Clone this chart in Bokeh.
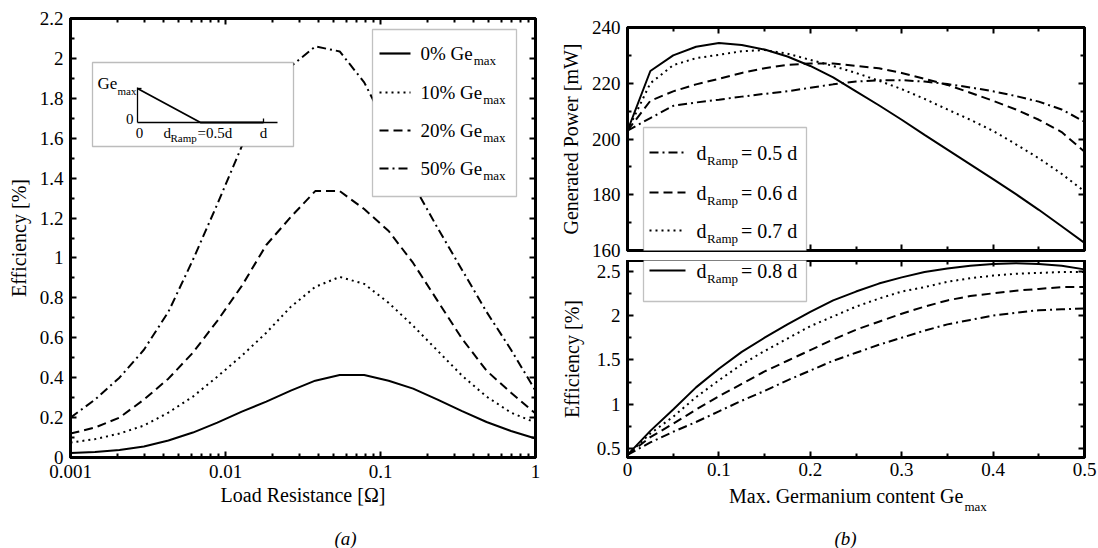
from bokeh.plotting import figure
from bokeh.models import (Range1d, LinearAxis, LogAxis, FixedTicker, CustomJSTickFormatter,
                          Label, BoxAnnotation, LinearScale)
from bokeh.layouts import row, column
from bokeh.embed import file_html
from bokeh.resources import INLINE

FONT = "Liberation Serif"

# ---------------- panel (a): efficiency vs load resistance ----------------
load_resistance = [0.001, 0.0014384, 0.0020691, 0.0029764, 0.0042813, 0.0061585, 0.0088587,
                   0.012743, 0.018330, 0.026367, 0.037927, 0.054556, 0.078476, 0.11288,
                   0.16238, 0.23357, 0.33598, 0.48329, 0.69519, 1.0]
eff_ge0 = [0.022, 0.028, 0.038, 0.055, 0.085, 0.125, 0.175, 0.23, 0.28, 0.335,
           0.385, 0.413, 0.413, 0.385, 0.345, 0.29, 0.232, 0.178, 0.133, 0.095]
eff_ge10 = [0.075, 0.092, 0.12, 0.16, 0.225, 0.305, 0.405, 0.51, 0.625, 0.755,
            0.855, 0.905, 0.87, 0.775, 0.66, 0.535, 0.41, 0.305, 0.225, 0.175]
eff_ge20 = [0.12, 0.15, 0.2, 0.29, 0.395, 0.525, 0.685, 0.86, 1.065, 1.205,
            1.335, 1.335, 1.245, 1.135, 0.975, 0.785, 0.595, 0.435, 0.325, 0.22]
eff_ge50 = [0.2, 0.29, 0.4, 0.54, 0.73, 0.99, 1.27, 1.56, 1.85, 1.96,
            2.06, 2.035, 1.88, 1.64, 1.37, 1.15, 0.94, 0.73, 0.54, 0.335]
left_labels = ["0% Ge", "10% Ge", "20% Ge", "50% Ge"]
left_x_ticks = [0.001, 0.01, 0.1, 1]
left_x_minor = [0.002, 0.003, 0.004, 0.005, 0.006, 0.007, 0.008, 0.009,
                0.02, 0.03, 0.04, 0.05, 0.06, 0.07, 0.08, 0.09,
                0.2, 0.3, 0.4, 0.5, 0.6, 0.7, 0.8, 0.9]
left_y_ticks = [0, 0.2, 0.4, 0.6, 0.8, 1, 1.2, 1.4, 1.6, 1.8, 2, 2.2]
left_y_minor = [0.1, 0.3, 0.5, 0.7, 0.9, 1.1, 1.3, 1.5, 1.7, 1.9, 2.1]

# ---------------- panel (b): power and efficiency vs Ge_max ----------------
ge_max = [0, 0.025, 0.05, 0.075, 0.1, 0.125, 0.15, 0.175, 0.2, 0.225, 0.25,
          0.275, 0.3, 0.325, 0.35, 0.375, 0.4, 0.425, 0.45, 0.475, 0.5]
power_r05 = [203, 207.5, 211.9, 213.1, 214.1, 215.2, 216.2, 217.1, 218.4, 219.6, 220.6,
             221.1, 221.1, 220.6, 219.7, 218.5, 217.1, 215.4, 213.4, 210.6, 206.2]
power_r06 = [203, 213.7, 217.1, 219.6, 221.6, 223.7, 225.4, 226.6, 227.1, 227.1, 226.2,
             225.4, 223.7, 221.6, 219.4, 216.6, 213.7, 210.6, 206.9, 202.5, 195.4]
power_r07 = [203, 220, 226.5, 229, 230.2, 231.5, 231.9, 230.6, 228.4, 226.2, 223.7,
             220.9, 217.9, 214.4, 210.6, 206.9, 202.9, 198.1, 193.1, 187.5, 181.2]
power_r08 = [203, 224.4, 230, 233.1, 234.4, 233.7, 232.1, 229.6, 226.2, 222.1, 217.1,
             212.1, 206.9, 201.5, 196.2, 190.9, 185.6, 180.2, 174.6, 168.7, 162.7]
eff_r05 = [0.43, 0.57, 0.69, 0.80, 0.92, 1.04, 1.15, 1.27, 1.38, 1.49, 1.58,
           1.67, 1.75, 1.83, 1.90, 1.95, 2.00, 2.03, 2.06, 2.07, 2.08]
eff_r06 = [0.43, 0.63, 0.78, 0.94, 1.09, 1.23, 1.37, 1.49, 1.61, 1.73, 1.84,
           1.93, 2.02, 2.10, 2.17, 2.22, 2.25, 2.28, 2.30, 2.32, 2.32]
eff_r07 = [0.43, 0.67, 0.86, 1.08, 1.27, 1.45, 1.60, 1.74, 1.88, 1.99, 2.10,
           2.19, 2.27, 2.32, 2.38, 2.42, 2.45, 2.47, 2.48, 2.49, 2.49]
eff_r08 = [0.43, 0.70, 0.94, 1.19, 1.40, 1.59, 1.75, 1.90, 2.04, 2.17, 2.27,
           2.36, 2.43, 2.49, 2.53, 2.56, 2.58, 2.59, 2.58, 2.56, 2.52]
ramp_labels = ["= 0.5 d", "= 0.6 d", "= 0.7 d", "= 0.8 d"]
right_x_ticks = [0, 0.1, 0.2, 0.3, 0.4, 0.5]
right_x_minor = [0.05, 0.15, 0.25, 0.35, 0.45]
power_ticks = [160, 180, 200, 220, 240]
power_minor = [170, 190, 210, 230]
effb_ticks = [0.5, 1, 1.5, 2, 2.5]
effb_minor = [0.75, 1.25, 1.75, 2.25]

DOT = "2 4"
DASH = "9 5"
DASHDOT = "9 4 2 4"

CW = {'0': .5, '1': .5, '2': .5, '3': .5, '4': .5, '5': .5, '6': .5, '7': .5, '8': .5, '9': .5,
      '.': .25, '%': .833, ' ': .25, 'G': .722, 'e': .444, 'd': .5, '=': .564, 'M': .889,
      'a': .444, 'x': .5, 'r': .333, 'm': .778, 'n': .5, 'i': .278, 'u': .5, 'c': .444,
      'o': .5, 't': .278, 'R': .667, 'p': .5}


def tw(s, fs):
    return sum(CW.get(c, 0.5) for c in s) * fs


fmt_code = "return String(tick)"


def style_axis(ax, ticks, minor, show_labels=True, standoff=7):
    ax.ticker = FixedTicker(ticks=ticks, minor_ticks=minor)
    ax.formatter = CustomJSTickFormatter(code=fmt_code)
    ax.axis_line_color = "black"
    ax.axis_line_width = 3
    ax.major_tick_line_color = "black"
    ax.major_tick_line_width = 2
    ax.minor_tick_line_color = "black"
    ax.minor_tick_line_width = 2
    ax.major_tick_in = 6
    ax.major_tick_out = 0
    ax.minor_tick_in = 4
    ax.minor_tick_out = 0
    ax.major_label_text_font = FONT
    if show_labels:
        ax.major_label_text_color = "black"
        ax.major_label_text_font_size = "19px"
        ax.major_label_standoff = standoff
    else:
        ax.major_label_text_color = None
        ax.major_label_text_font_size = "0px"
        ax.major_label_standoff = 0
    ax.axis_label_text_font = FONT
    ax.axis_label_text_font_size = "20px"
    ax.axis_label_text_font_style = "normal"
    ax.axis_label_text_color = "black"


def base_fig(**kw):
    p = figure(output_backend="svg", toolbar_location=None, **kw)
    p.grid.visible = False
    p.background_fill_color = "white"
    p.border_fill_color = "white"
    p.outline_line_color = "black"
    p.outline_line_width = 3
    return p


def caption_fig(width, height):
    p = figure(output_backend="svg", toolbar_location=None, width=width, height=height,
               x_range=Range1d(0, width), y_range=Range1d(0, height),
               x_axis_location=None, y_axis_location=None, min_border=0)
    p.grid.visible = False
    p.outline_line_color = None
    p.background_fill_color = "white"
    p.border_fill_color = "white"
    return p


def label(p, x, y, text, size=19, align="left", style="normal"):
    p.add_layout(Label(x=x, y=y, x_units="screen", y_units="screen", text=text,
                       text_font=FONT, text_font_size=f"{size}px", text_color="black",
                       text_baseline="middle", text_align=align, text_font_style=style))


def sub_label(p, x, y, main, sub, size, sub_size, after="", drop=7, gap=1):
    label(p, x, y, main, size)
    xs = x + tw(main, size) + gap
    label(p, xs, y - drop, sub, sub_size)
    if after:
        label(p, xs + tw(sub, sub_size) + 3, y, after, size)


def box(p, left, right, bottom, top, color="#333"):
    p.add_layout(BoxAnnotation(left=left, right=right, bottom=bottom, top=top,
                               left_units="screen", right_units="screen",
                               bottom_units="screen", top_units="screen",
                               fill_color="white", fill_alpha=1.0,
                               line_color=color, line_width=1.3, level="annotation"))


def seg(p, xs, ys, dash="solid", width=2.0):
    p.line(xs, ys, x_range_name="px", y_range_name="px", level="overlay",
           line_color="black", line_width=width, line_dash=dash)


# ======================= left figure =======================
p1 = base_fig(width=548, height=520, x_axis_type="log",
              x_range=Range1d(0.001, 1), y_range=Range1d(0, 2.2),
              min_border_left=70, min_border_right=13, min_border_top=18, min_border_bottom=63)
p1.extra_x_ranges = {"px": Range1d(0, 465)}
p1.extra_y_ranges = {"px": Range1d(0, 439)}
p1.extra_x_scales = {"px": LinearScale()}

left_series = [(eff_ge0, "solid"), (eff_ge10, DOT), (eff_ge20, DASH), (eff_ge50, DASHDOT)]
for ys, dash in left_series:
    p1.line(load_resistance, ys, line_color="black", line_width=2, line_dash=dash)

style_axis(p1.xaxis[0], left_x_ticks, left_x_minor)
style_axis(p1.yaxis[0], left_y_ticks, left_y_minor)
p1.xaxis[0].axis_label = "Load Resistance [Ω]"
p1.xaxis[0].axis_label_standoff = 3
p1.yaxis[0].axis_label = "Efficiency [%]"
p1.yaxis[0].axis_label_standoff = 7
top_ax = LogAxis()
style_axis(top_ax, left_x_ticks, left_x_minor, show_labels=False)
p1.add_layout(top_ax, "above")
right_ax = LinearAxis()
style_axis(right_ax, left_y_ticks, left_y_minor, show_labels=False)
p1.add_layout(right_ax, "right")

# inset schematic (frame pixel coordinates)
box(p1, 22, 223, 311, 395, color="#222")
ox, oy, dd, gh = 67, 335, 126, 34
seg(p1, [ox, ox], [oy, oy + gh + 1], width=1.3)
seg(p1, [ox, ox + 140], [oy, oy], width=1.3)
seg(p1, [ox, ox + 4], [oy + gh, oy + gh], width=1.3)
seg(p1, [ox + dd, ox + dd], [oy, oy + 4], width=1.3)
seg(p1, [ox, ox + dd / 2, ox + dd], [oy + gh, oy, oy], width=1.8)
label(p1, 27, oy + gh + 5, "Ge", 17)
label(p1, 47, oy + gh - 2, "max", 11)
label(p1, 63, oy + 4, "0", 15, align="right")
label(p1, ox + 2, oy - 10, "0", 15, align="center")
label(p1, 93, oy - 10, "d", 15)
label(p1, 100, oy - 15, "Ramp", 11)
label(p1, 127, oy - 10, "=0.5d", 15)
label(p1, ox + dd, oy - 10, "d", 15, align="center")

# legend (a)
box(p1, 302, 446, 261, 428)
left_rows = [404, 365, 327, 289]
for (ys, dash), txt, ry in zip(left_series, left_labels, left_rows):
    seg(p1, [309, 340], [ry, ry], dash=dash, width=2.2)
    sub_label(p1, 350, ry, txt, "max", 19, 13)

# caption figure: its frame is aligned with p1's frame (left edge at x = 70)
cap_a = caption_fig(548, 28)
label(cap_a, 275, 10, "(a)", 19, align="center", style="italic")

# ======================= right top figure =======================
p2 = base_fig(width=550, height=260, x_range=Range1d(0, 0.5), y_range=Range1d(160, 240),
              min_border_left=79, min_border_right=14, min_border_top=27, min_border_bottom=10)
p2.extra_x_ranges = {"px": Range1d(0, 457)}
p2.extra_y_ranges = {"px": Range1d(0, 223)}
right_power = [(power_r05, DASHDOT), (power_r06, DASH), (power_r07, DOT), (power_r08, "solid")]
for ys, dash in right_power:
    p2.line(ge_max, ys, line_color="black", line_width=2, line_dash=dash)
style_axis(p2.xaxis[0], right_x_ticks, right_x_minor, show_labels=False)
style_axis(p2.yaxis[0], power_ticks, power_minor)
p2.yaxis[0].axis_label = "Generated Power [mW]"
p2.yaxis[0].axis_label_standoff = 7
ax = LinearAxis()
style_axis(ax, right_x_ticks, right_x_minor, show_labels=False)
p2.add_layout(ax, "above")
ax = LinearAxis()
style_axis(ax, power_ticks, power_minor, show_labels=False)
p2.add_layout(ax, "right")

# ======================= right bottom figure =======================
p3 = base_fig(width=550, height=223, x_range=Range1d(0, 0.5), y_range=Range1d(0.4, 2.62),
              min_border_left=79, min_border_right=14, min_border_top=0, min_border_bottom=26)
p3.extra_x_ranges = {"px": Range1d(0, 457)}
p3.extra_y_ranges = {"px": Range1d(0, 197)}
right_eff = [(eff_r05, DASHDOT), (eff_r06, DASH), (eff_r07, DOT), (eff_r08, "solid")]
for ys, dash in right_eff:
    p3.line(ge_max, ys, line_color="black", line_width=2, line_dash=dash)
style_axis(p3.xaxis[0], right_x_ticks, right_x_minor, standoff=5)
style_axis(p3.yaxis[0], effb_ticks, effb_minor)
p3.yaxis[0].axis_label = "Efficiency [%]"
p3.yaxis[0].axis_label_standoff = 11
ax = LinearAxis()
style_axis(ax, right_x_ticks, right_x_minor, show_labels=False)
p3.add_layout(ax, "above")
ax = LinearAxis()
style_axis(ax, effb_ticks, effb_minor, show_labels=False)
p3.add_layout(ax, "right")

# caption figure: its frame is aligned with p3's frame (left edge at x = 627)
cap_b = caption_fig(550, 65)
sub_label(cap_b, 101.5, 53, "Max. Germanium content Ge", "max", 20, 13, drop=11)
label(cap_b, 218, 10, "(b)", 19, align="center", style="italic")

# legend (b), split across the two stacked panels
box(p2, 16, 179, -60, 123)
box(p3, 16, 179, 156, 215)
rows_top = [98, 58, 20]
for (ys, dash), txt, ry in zip(right_power[:3], ramp_labels[:3], rows_top):
    seg(p2, [22, 58], [ry, ry], dash=dash, width=2.2)
    sub_label(p2, 69, ry, "d", "Ramp", 20, 13, after=txt, drop=8, gap=0.5)
seg(p3, [22, 58], [187, 187], dash="solid", width=2.2)
sub_label(p3, 69, 187, "d", "Ramp", 20, 13, after=ramp_labels[3], drop=8, gap=0.5)

layout = row(column(p1, cap_a), column(p2, p3, cap_b))
open("out.html", "w").write(file_html(layout, INLINE))
